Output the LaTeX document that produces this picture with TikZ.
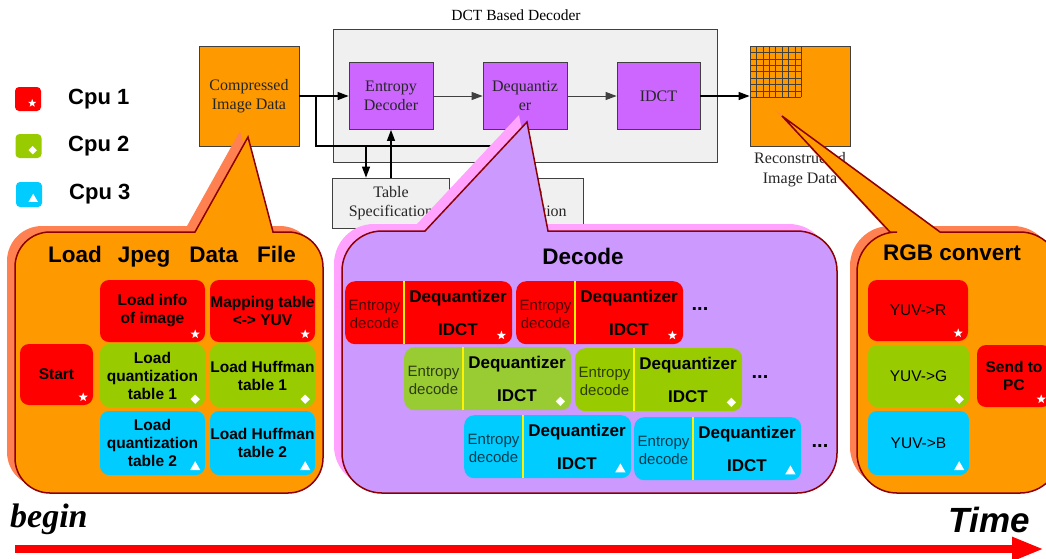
\documentclass[tikz,border=0pt]{standalone}
\usepackage{fontspec}
\setmainfont{Liberation Sans}
\newfontfamily\tms{Liberation Serif}
\usetikzlibrary{shapes.geometric,arrows.meta,calc}

\definecolor{cred}{HTML}{FF0000}
\definecolor{cgreen}{HTML}{99CC00}
\definecolor{cgreenl}{HTML}{99CC33}
\definecolor{cblue}{HTML}{00CCFF}
\definecolor{corange}{HTML}{FF9900}
\definecolor{cpurple}{HTML}{CC66FF}
\definecolor{clav}{HTML}{CC99FF}
\definecolor{cpink}{HTML}{FFA3FF}
\definecolor{ccoral}{HTML}{FF8050}
\definecolor{cdark}{HTML}{8B0000}
\definecolor{cgray}{HTML}{F0F0F0}
\definecolor{cedge}{HTML}{404040}

% L T R B r blx tipx tipy brx
\newcommand\calloutpath[9]{(#6,#2) -- (#7,#8) -- (#9,#2) -- ({#3-#5},#2) arc[start angle=90,end angle=0,radius=#5pt] -- (#3,{#4-#5}) arc[start angle=0,end angle=-90,radius=#5pt] -- ({#1+#5},#4) arc[start angle=-90,end angle=-180,radius=#5pt] -- (#1,{#2+#5}) arc[start angle=180,end angle=90,radius=#5pt] -- cycle}

\tikzset{
 tbox/.style={draw=cedge, line width=0.8pt, font=\tms\fontsize{16}{19}\selectfont, align=center, inner sep=0, text=black!85},
 gbox/.style={draw=cedge, line width=1pt, fill=cgray, inner sep=0},
 lbl/.style={font=\tms\fontsize{16}{20}\selectfont, align=center, inner sep=0, text=black!85},
 cbox/.style={rounded corners=9pt, inner sep=0, align=center, font=\bfseries\fontsize{15.5}{18}\selectfont},
 ybox/.style={rounded corners=9pt, inner sep=0, align=center, font=\fontsize{15.5}{18}\selectfont},
 dbox/.style={rounded corners=10pt, minimum width=167pt, minimum height=63pt, inner sep=0},
 sepline/.style={draw=yellow, line width=1.8pt},
 enttxt/.style={font=\fontsize{15}{18}\selectfont, align=center, inner sep=0, text opacity=0.7},
 dqtxt/.style={font=\bfseries\fontsize{17}{20}\selectfont, inner sep=0},
 mstar/.style={star, star points=5, star point ratio=2.4, fill=white, inner sep=0, minimum size=9.5pt},
 mdia/.style={diamond, fill=white, inner sep=0, minimum size=9.5pt},
 mtri/.style={regular polygon, regular polygon sides=3, fill=white, inner sep=0, minimum size=12pt},
 ttl/.style={font=\bfseries\fontsize{22.5}{26}\selectfont, inner sep=0},
 leg/.style={font=\bfseries\fontsize{22}{26}\selectfont, inner sep=0, anchor=west},
 dots/.style={font=\bfseries\fontsize{20}{22}\selectfont, inner sep=0},
 arr/.style={-{Triangle[length=11pt,width=8pt]}, line width=1pt, draw=cedge},
 arrk/.style={-{Triangle[length=11pt,width=8pt]}, line width=1.3pt, draw=black},
 blk/.style={line width=1.3pt, draw=black},
 shad/.style={fill=#1, draw=none},
 cout/.style={fill=#1, draw=cdark, line width=1.5pt},
}

\newcommand\decbox[5]{%
 \node[dbox, fill=#4, anchor=north west] (#1) at (#2,#3) {};
 \draw[sepline] ([xshift=59pt]#1.north west) -- ([xshift=59pt]#1.south west);
 \node[enttxt] (#1e) at ($(#1.north west)+(29.5,33)$) {Entropy\\decode};
 \node[dqtxt] (#1d) at ($(#1.north west)+(113,17)$) {Dequantizer};
 \node[dqtxt] (#1i) at ($(#1.north west)+(113,49)$) {IDCT};
 \node[#5] (#1m) at ($(#1.south east)+(-11,-9)$) {};
}

\begin{document}
\begin{tikzpicture}[x=1pt,y=-1pt]
\useasboundingbox (0,0) rectangle (1046,558);
\clip (0,0) rectangle (1046,558);
\fill[white] (0,0) rectangle (1046,558);

% ---------- legend
\node[fill=cred, rounded corners=4pt, minimum width=26pt, minimum height=24pt, inner sep=0] (l1) at (28,99) {};
\node[mstar, minimum size=8.5pt] (l1m) at ($(l1.south east)+(-9,-8)$) {};
\node[leg] (l1t) at (68,99) {Cpu 1};
\node[fill=cgreen, rounded corners=4pt, minimum width=26pt, minimum height=24pt, inner sep=0] (l2) at (28.5,146) {};
\node[mdia, minimum size=8.5pt] (l2m) at ($(l2.south east)+(-9,-8)$) {};
\node[leg] (l2t) at (68,146) {Cpu 2};
\node[fill=cblue, rounded corners=4pt, minimum width=26pt, minimum height=25pt, inner sep=0] (l3) at (29,194.5) {};
\node[mtri, minimum size=11pt] (l3m) at ($(l3.south east)+(-9,-8)$) {};
\node[leg] (l3t) at (69,194) {Cpu 3};

% ---------- top diagram
\node[font=\tms\fontsize{15.5}{18}\selectfont, inner sep=0] (dtitle) at (516,15) {DCT Based Decoder};
\node[gbox, minimum width=384pt, minimum height=133pt] (dct) at (525,95.5) {};
\node[tbox, fill=corange, minimum width=100pt, minimum height=100pt] (cid) at (249,96) {Compressed\\Image Data};
\node[tbox, fill=cpurple, minimum width=84pt, minimum height=67pt] (ent) at (391,96) {Entropy\\Decoder};
\node[tbox, fill=cpurple, minimum width=84pt, minimum height=67pt] (deq) at (525,96) {Dequantiz\\er};
\node[tbox, fill=cpurple, minimum width=83pt, minimum height=67pt] (idct) at (658.5,96) {IDCT};
\node[tbox, fill=corange, minimum width=100pt, minimum height=100pt] (rec) at (800,96) {};
\foreach \i in {0,...,8} {
  \draw[cedge, line width=0.6pt] ({750+\i*6.4},46) -- ({750+\i*6.4},97.2);
  \draw[cedge, line width=0.6pt] (750,{46+\i*6.4}) -- (801.2,{46+\i*6.4});
}
\node[lbl] (recl) at (800,170) {Reconstructed\\Image Data};
\node[tbox, fill=cgray, minimum width=117pt, minimum height=50pt] (ts1) at (391,203) {Table\\Specification};
\node[tbox, fill=cgray, minimum width=117pt, minimum height=50pt] (ts2) at (524.5,203) {Table\\Specification};

\coordinate (b0) at (316,96);
\coordinate (j1) at (366,146);
\coordinate (j2) at (499,146);
\draw[arrk] (cid.east) -- (cid.east -| ent.west);
\draw[arr] (ent.east) -- (deq.west);
\draw[arr] (deq.east) -- (idct.west);
\draw[arrk] (idct.east) -- (idct.east -| rec.west);
\draw[blk] (b0) |- (j2);
\draw[arrk] (j1) -- (j1 |- ts1.north);
\draw[arrk] (ts1.north) -- (ts1.north |- ent.south);
\draw[arrk] (j2) -- (j2 |- ts2.north);
\draw[arrk] (ts2.north) -- (ts2.north |- deq.south);

% ---------- left callout
\fill[shad=ccoral, shift={(-8,-6)}] \calloutpath{15}{232}{323}{493}{35}{195}{248}{137}{273};
\draw[cout=corange] \calloutpath{15}{232}{323}{493}{35}{195}{248}{137}{273};
\node[ttl, anchor=west] (lt) at (48,257) {Load\hskip16pt Jpeg\hskip19pt Data\hskip19pt File};
\node[cbox, fill=cred, minimum width=105pt, minimum height=62pt] (info) at (152.5,311) {Load info\\of image};
\node[mstar] (infom) at ($(info.south east)+(-10,-8)$) {};
\node[cbox, fill=cred, minimum width=105pt, minimum height=62pt] (map) at (262.5,311) {Mapping table\\<-> YUV};
\node[mstar] (mapm) at ($(map.south east)+(-10,-8)$) {};
\node[cbox, fill=cred, minimum width=73pt, minimum height=61pt] (start) at (56.5,374.5) {Start};
\node[mstar] (startm) at ($(start.south east)+(-10,-8)$) {};
\node[cbox, fill=cgreen, minimum width=105pt, minimum height=63pt] (q1) at (152.5,375.5) {Load\\quantization\\table 1};
\node[mdia] (q1m) at ($(q1.south east)+(-10,-8)$) {};
\node[cbox, fill=cgreen, minimum width=105pt, minimum height=63pt] (h1) at (262.5,375.5) {Load Huffman\\table 1};
\node[mdia] (h1m) at ($(h1.south east)+(-10,-8)$) {};
\node[cbox, fill=cblue, minimum width=105pt, minimum height=64pt] (q2) at (152.5,443) {Load\\quantization\\table 2};
\node[mtri] (q2m) at ($(q2.south east)+(-10,-8)$) {};
\node[cbox, fill=cblue, minimum width=105pt, minimum height=64pt] (h2) at (262.5,443) {Load Huffman\\table 2};
\node[mtri] (h2m) at ($(h2.south east)+(-10,-8)$) {};

% ---------- middle callout
\fill[shad=cpink, shift={(-8,-7)}] \calloutpath{342}{231}{837}{493}{40}{425}{527}{122}{548};
\draw[cout=clav] \calloutpath{342}{231}{837}{493}{40}{425}{527}{122}{548};
\node[ttl] (dt) at (583,256) {Decode};
\decbox{r1a}{345}{281}{cred}{mstar}
\decbox{r1b}{516}{281}{cred}{mstar}
\decbox{r2a}{404}{347}{cgreenl}{mdia}
\decbox{r2b}{575}{348}{cgreen}{mdia}
\decbox{r3a}{464}{415}{cblue}{mtri}
\decbox{r3b}{634}{417}{cblue}{mtri}
\node[dots] (d1) at (700,309) {...};
\node[dots] (d2) at (760,377) {...};
\node[dots] (d3) at (820,446) {...};

% ---------- right callout
\fill[shad=ccoral, shift={(-7,-6)}] \calloutpath{857}{232}{1060}{493}{40}{890}{782}{116}{940};
\draw[cout=corange] \calloutpath{857}{232}{1060}{493}{40}{890}{782}{116}{940};
\node[ttl] (rt) at (952,253) {RGB convert};
\node[ybox, fill=cred, minimum width=100pt, minimum height=61pt] (yr) at (918,310.5) {YUV->R};
\node[mstar] (yrm) at ($(yr.south east)+(-10,-8)$) {};
\node[ybox, fill=cgreen, minimum width=101pt, minimum height=62pt] (yg) at (918.5,376) {YUV->G};
\node[mdia] (ygm) at ($(yg.south east)+(-10,-8)$) {};
\node[ybox, fill=cblue, minimum width=101pt, minimum height=64pt] (yb) at (918.5,443) {YUV->B};
\node[mtri] (ybm) at ($(yb.south east)+(-10,-8)$) {};
\node[cbox, fill=cred, minimum width=74pt, minimum height=62pt] (pc) at (1014,376) {Send to\\PC};
\node[mstar] (pcm) at ($(pc.south east)+(-10,-8)$) {};

% ---------- time axis
\node[anchor=base west, font=\tms\bfseries\itshape\fontsize{34}{40}\selectfont, inner sep=0] (bg) at (10,527) {begin};
\node[anchor=base east, font=\bfseries\itshape\fontsize{35}{40}\selectfont, inner sep=0] (tm) at (1030,532) {Time};
\coordinate (t0) at (15,549);
\coordinate (t1) at (1044,549);
\draw[cred, line width=8pt, -{Triangle[length=32pt,width=22pt]}] (t0) -- (t1);
\end{tikzpicture}
\end{document}
